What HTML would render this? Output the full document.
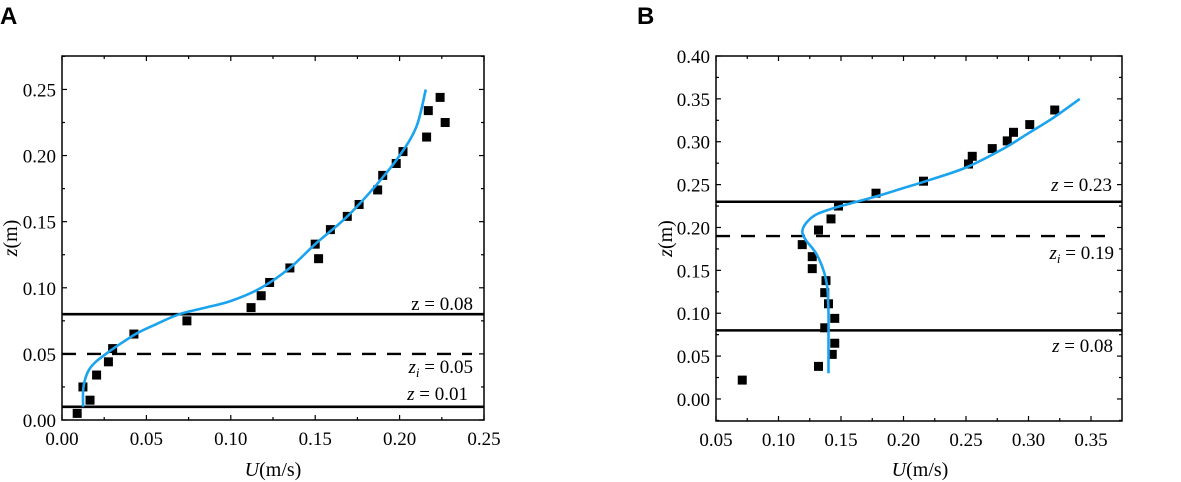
<!DOCTYPE html>
<html><head><meta charset="utf-8"><style>
html,body{margin:0;padding:0;background:#fff;}
svg{display:block;font-family:"Liberation Serif",serif;}
</style></head><body>
<svg id="fig" width="1181" height="482" viewBox="0 0 1181 482" xmlns="http://www.w3.org/2000/svg">
<text x="0" y="24" font-family="Liberation Sans, sans-serif" font-weight="bold" font-size="24">A</text>
<text x="637" y="24" font-family="Liberation Sans, sans-serif" font-weight="bold" font-size="24">B</text>
</svg>
<script>
// Panel A data
const aPointsU = [0.009,0.0166,0.0124,0.0205,0.0275,0.030,0.0426,0.074,0.112,0.118,0.123,0.135,0.150,0.152,0.159,0.169,0.176,0.187,0.190,0.198,0.202,0.216,0.217,0.224,0.227];
const aPointsZ = [0.005,0.015,0.025,0.034,0.044,0.054,0.065,0.075,0.085,0.094,0.104,0.115,0.133,0.122,0.144,0.154,0.163,0.174,0.185,0.194,0.203,0.214,0.234,0.244,0.225];
const aCurveU = [0.0125,0.0125,0.0135,0.016,0.020,0.026,0.035,0.045,0.055,0.0695,0.085,0.100,0.118,0.135,0.150,0.169,0.185,0.200,0.210,0.2155];
const aCurveZ = [0.010,0.022,0.030,0.038,0.044,0.050,0.058,0.066,0.072,0.080,0.085,0.090,0.100,0.115,0.133,0.154,0.176,0.200,0.222,0.250];
const aXTicks = ["0.00","0.05","0.10","0.15","0.20","0.25"];
const aYTicks = ["0.00","0.05","0.10","0.15","0.20","0.25"];
const aSolidLines = [0.08,0.01];
const aDashedLines = [0.05];
// Panel B data
const bPointsU = [0.071,0.132,0.143,0.145,0.137,0.145,0.140,0.137,0.138,0.127,0.127,0.119,0.132,0.142,0.148,0.178,0.216,0.252,0.255,0.271,0.283,0.288,0.301,0.321];
const bPointsZ = [0.022,0.038,0.052,0.065,0.083,0.094,0.111,0.124,0.138,0.152,0.166,0.180,0.197,0.210,0.225,0.240,0.254,0.274,0.283,0.292,0.301,0.311,0.320,0.337];
const bCurveU = [0.140,0.140,0.140,0.139,0.136,0.130,0.122,0.119,0.122,0.130,0.145,0.1625,0.180,0.200,0.220,0.250,0.280,0.300,0.320,0.341];
const bCurveZ = [0.030,0.070,0.100,0.130,0.150,0.170,0.185,0.195,0.205,0.215,0.223,0.230,0.237,0.246,0.255,0.270,0.292,0.310,0.328,0.350];
const bXTicks = ["0.05","0.10","0.15","0.20","0.25","0.30","0.35"];
const bYTicks = ["0.00","0.05","0.10","0.15","0.20","0.25","0.30","0.35","0.40"];
const bSolidLines = [0.23,0.08];
const bDashedLines = [0.19];

const NS="http://www.w3.org/2000/svg";
const svg=document.getElementById('fig');
function mk(tag,attrs,parent){const e=document.createElementNS(NS,tag);for(const k in attrs)e.setAttribute(k,attrs[k]);(parent||svg).appendChild(e);return e;}

function smoothPath(pts){
  let d='M'+pts[0][0].toFixed(1)+','+pts[0][1].toFixed(1);
  for(let i=0;i<pts.length-1;i++){
    const p0=pts[Math.max(i-1,0)],p1=pts[i],p2=pts[i+1],p3=pts[Math.min(i+2,pts.length-1)];
    const c1=[p1[0]+(p2[0]-p0[0])/6,p1[1]+(p2[1]-p0[1])/6];
    const c2=[p2[0]-(p3[0]-p1[0])/6,p2[1]-(p3[1]-p1[1])/6];
    d+='C'+c1[0].toFixed(1)+','+c1[1].toFixed(1)+' '+c2[0].toFixed(1)+','+c2[1].toFixed(1)+' '+p2[0].toFixed(1)+','+p2[1].toFixed(1);
  }
  return d;
}

function panel(p){
  const g=mk('g',{});
  
  
  const sx=v=>p.x0+(v-p.xmin)/(p.xmax-p.xmin)*(p.x1-p.x0);
  const sy=v=>p.y1-(v-p.ymin)/(p.ymax-p.ymin)*(p.y1-p.y0);
  const tg=mk('g',{stroke:'#000','stroke-width':1.2},g);
  for(let i=0;i<p.xt.length;i++){
    const v=parseFloat(p.xt[i]);
    for(const h of [0,0.5]){const vv=v+h*p.xstep;if(vv>p.xmax+1e-9)continue;const X=sx(vv);const L=h?3:5;
      mk('line',{x1:X,x2:X,y1:p.y1,y2:p.y1-L},tg);mk('line',{x1:X,x2:X,y1:p.y0,y2:p.y0+L},tg);}
    const t=mk('text',{x:sx(v),y:p.y1+25,'text-anchor':'middle','font-size':19},g);t.textContent=p.xt[i];
    
  }
  for(let i=0;i<p.yt.length;i++){
    const v=parseFloat(p.yt[i]);
    for(const h of [-0.5,0,0.5]){const vv=v+h*p.ystep;if(vv>p.ymax+1e-9||vv<p.ymin-1e-9)continue;if(h===-0.5&&i>0)continue;const Y=sy(vv);const L=h?3:5;
      mk('line',{x1:p.x0,x2:p.x0+L,y1:Y,y2:Y},tg);mk('line',{x1:p.x1,x2:p.x1-L,y1:Y,y2:Y},tg);}
    const t=mk('text',{x:p.x0-6,y:sy(v)+7,'text-anchor':'end','font-size':19},g);t.textContent=p.yt[i];
    
  }
  for(const v of p.solid){const l=mk('line',{x1:p.x0,x2:p.x1,y1:sy(v),y2:sy(v),stroke:'#000','stroke-width':2.6},g);
    }
  for(const v of p.dashed){const l=mk('line',{x1:p.x0,x2:p.dashEnd,y1:sy(v),y2:sy(v),stroke:'#000','stroke-width':2.4,'stroke-dasharray':'14,11'},g);
    }
  for(let i=0;i<p.pu.length;i++){const r=mk('rect',{x:sx(p.pu[i])-4.5,y:sy(p.pz[i])-4.5,width:9,height:9,fill:'#000'},g);
    }
  const pts=p.cu.map((u,i)=>[sx(u),sy(p.cz[i])]);
  const path=mk('path',{d:smoothPath(pts),fill:'none',stroke:'#1aa3ef','stroke-width':2.6,'stroke-linejoin':'round'},g);
  
  const box=mk('rect',{x:p.x0,y:p.y0,width:p.x1-p.x0,height:p.y1-p.y0,fill:'none',stroke:'#000','stroke-width':1.5},g);
  
  const xl=mk('text',{x:p.xlab,y:476,'text-anchor':'middle','font-size':20},g);
  xl.innerHTML='<tspan font-style="italic">U</tspan>(m/s)';
  
  const yl=mk('text',{x:0,y:0,'text-anchor':'middle','font-size':20,transform:'translate('+p.ylab+','+((p.y0+p.y1)/2)+') rotate(-90)'},g);
  yl.innerHTML='<tspan font-style="italic">z</tspan>(m)';
  
  for(const a of p.ann){const t=mk('text',{x:a[0],y:a[1],'text-anchor':'end','font-size':19},g);t.innerHTML=a[2];
    }
}

panel({name:'panel-a-chart',x0:62,x1:484,y0:56,y1:420,xmin:0,xmax:0.25,ymin:0,ymax:0.2753,xstep:0.05,ystep:0.05,
  xt:aXTicks,yt:aYTicks,pu:aPointsU,pz:aPointsZ,cu:aCurveU,cz:aCurveZ,solid:aSolidLines,dashed:aDashedLines,dashEnd:472,
  xlab:273,ylab:17,
  ann:[[473,310,'z = 0.08'],[473,373,'<tspan font-style="italic">z</tspan><tspan font-style="italic" font-size="13" dy="4">i</tspan><tspan dy="-4"> = 0.05</tspan>'],[468,400,'<tspan font-style="italic">z</tspan> = 0.01']]});

panel({name:'panel-b-chart',x0:716,x1:1122,y0:56,y1:421,xmin:0.05,xmax:0.3748,ymin:-0.0257,ymax:0.40,xstep:0.05,ystep:0.05,
  xt:bXTicks,yt:bYTicks,pu:bPointsU,pz:bPointsZ,cu:bCurveU,cz:bCurveZ,solid:bSolidLines,dashed:bDashedLines,dashEnd:1112,
  xlab:920,ylab:672,
  ann:[[1112,191,'<tspan font-style="italic">z</tspan> = 0.23'],[1114,259,'<tspan font-style="italic">z</tspan><tspan font-style="italic" font-size="13" dy="4">i</tspan><tspan dy="-4"> = 0.19</tspan>'],[1113,352,'<tspan font-style="italic">z</tspan> = 0.08']]});
</script>
</body></html>
